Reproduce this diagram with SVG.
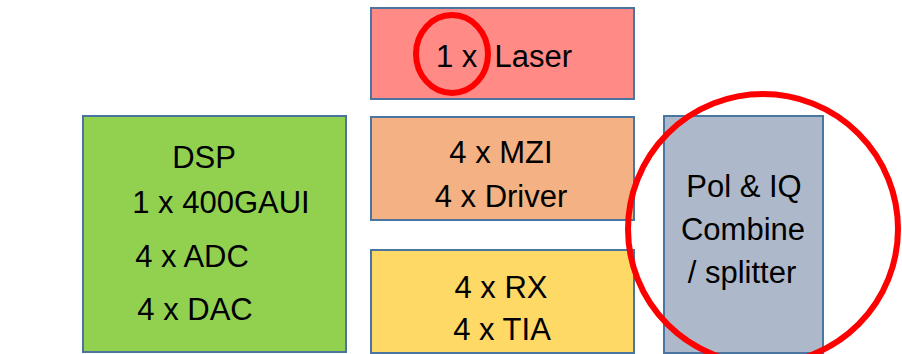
<svg xmlns="http://www.w3.org/2000/svg" width="902" height="354" viewBox="0 0 902 354">
<style>
.box{stroke:#4A75A0;stroke-width:2}
.t{font-family:"Liberation Sans",Arial,sans-serif;font-size:31px;fill:#000;text-anchor:middle;white-space:pre}
.ring{fill:none;stroke:#FF0000;stroke-width:6}
</style>
<rect width="902" height="354" fill="#FFFFFF"/>
<g id="laser">
<rect class="box" x="371" y="8" width="263" height="91" fill="#FF8A86"/>
<text class="t" x="504" y="67" xml:space="preserve">1 x  Laser</text>
</g>
<g id="mzi">
<rect class="box" x="371" y="117" width="263" height="103" fill="#F4B183"/>
<text class="t" x="501" y="163">4 x MZI</text>
<text class="t" x="501" y="207">4 x Driver</text>
</g>
<g id="rx">
<rect class="box" x="371" y="250" width="263" height="103" fill="#FFD966"/>
<text class="t" x="501" y="298">4 x RX</text>
<text class="t" x="502" y="340">4 x TIA</text>
</g>
<g id="dsp">
<rect class="box" x="83" y="116" width="263" height="236" fill="#92D050"/>
<text class="t" x="204" y="168">DSP</text>
<text class="t" x="221" y="213">1 x 400GAUI</text>
<text class="t" x="192" y="267">4 x ADC</text>
<text class="t" x="195" y="320">4 x DAC</text>
</g>
<g id="pol">
<rect class="box" x="664" y="116" width="159" height="237" fill="#ADB9CA"/>
<text class="t" x="744" y="197">Pol &amp; IQ</text>
<text class="t" x="743" y="240">Combine</text>
<text class="t" x="742" y="283">/ splitter</text>
</g>
<g id="connectors"></g>
<g id="highlights">
<ellipse class="ring" cx="452" cy="54" rx="36" ry="39"/>
<circle class="ring" cx="763" cy="229" r="135"/>
</g>
</svg>
